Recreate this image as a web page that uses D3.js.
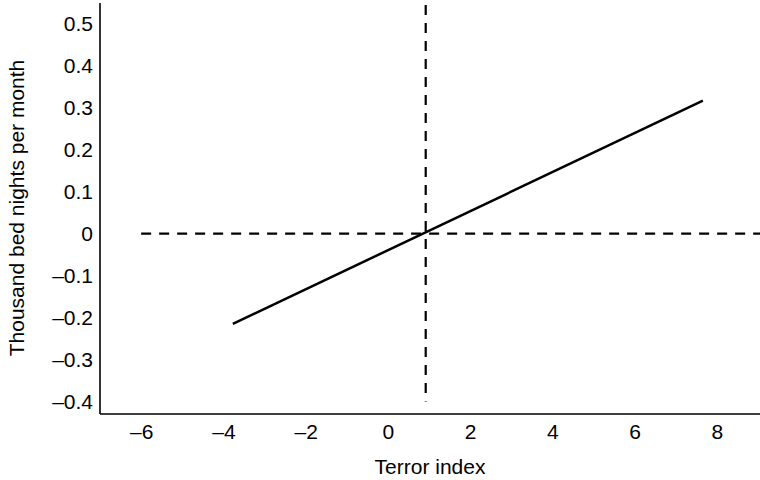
<!DOCTYPE html>
<html>
<head>
<meta charset="UTF-8">
<style>
  body { margin: 0; background: #fff; }
  svg text { font-family: "Liberation Sans", Arial, sans-serif; fill: #000; }
</style>
</head>
<body>
<svg></svg>
<script src="https://d3js.org/d3.v7.min.js"></script>
<script>
// fitted line (terror index -> thousand bed nights per month)
let lineX = [-3.77, 7.66];
let lineY = [-0.215, 0.317];
// reference lines
let zeroX = 0.92;
let xTicks = [-6, -4, -2, 0, 2, 4, 6, 8];
let yTicks = [0.5, 0.4, 0.3, 0.2, 0.1, 0, -0.1, -0.2, -0.3, -0.4];

let width = 760, height = 480;
let svg = d3.select("svg").attr("width", width).attr("height", height);

let x = d3.scaleLinear().domain([-7, 9]).range([100, 758]);
let y = d3.scaleLinear().domain([-0.43, 0.55]).range([414, 3]);

let fmt = v => (v < 0 ? "\u2013" : "") + (v === 0 ? "0" : d3.format(".1f")(Math.abs(v)));
let fmtX = v => (v < 0 ? "\u2013" : "") + Math.abs(v);

// axes, no tick marks
let xAxis = svg.append("g")
    .attr("transform", "translate(0," + y(-0.43) + ")")
    .call(d3.axisBottom(x).tickValues(xTicks).tickSize(0).tickPadding(10).tickFormat(fmtX));
let yAxis = svg.append("g")
    .attr("transform", "translate(" + x(-7) + ",0)")
    .call(d3.axisLeft(y).tickValues(yTicks).tickSize(0).tickPadding(7).tickFormat(fmt));

xAxis.select(".domain").attr("d", "M" + x(-7) + ",0H" + width).attr("stroke-width", 1.6);
yAxis.select(".domain").attr("d", "M0," + y(-0.43) + "V" + y(0.55)).attr("stroke-width", 1.6);
svg.selectAll(".tick text").style("font-size", "21px").attr("fill", "#000");

// dashed zero lines
svg.append("line")
    .attr("x1", x(-6)).attr("x2", width)
    .attr("y1", y(0)).attr("y2", y(0))
    .attr("stroke", "#000").attr("stroke-width", 2.2)
    .attr("stroke-dasharray", "10,8");
svg.append("line")
    .attr("x1", x(zeroX)).attr("x2", x(zeroX))
    .attr("y1", y(0.545)).attr("y2", y(-0.4))
    .attr("stroke", "#000").attr("stroke-width", 2.2)
    .attr("stroke-dasharray", "10,8");

// regression line
let pts = lineX.map((v, i) => [v, lineY[i]]);
svg.append("path")
    .datum(pts)
    .attr("fill", "none")
    .attr("stroke", "#000")
    .attr("stroke-width", 2.5)
    .attr("d", d3.line().x(d => x(d[0])).y(d => y(d[1])));

// axis titles
svg.append("text")
    .attr("x", 430).attr("y", 474)
    .attr("text-anchor", "middle")
    .style("font-size", "21px")
    .text("Terror index");
svg.append("text")
    .attr("transform", "translate(24,208) rotate(-90)")
    .attr("text-anchor", "middle")
    .style("font-size", "21px")
    .text("Thousand bed nights per month");
</script>
</body>
</html>
